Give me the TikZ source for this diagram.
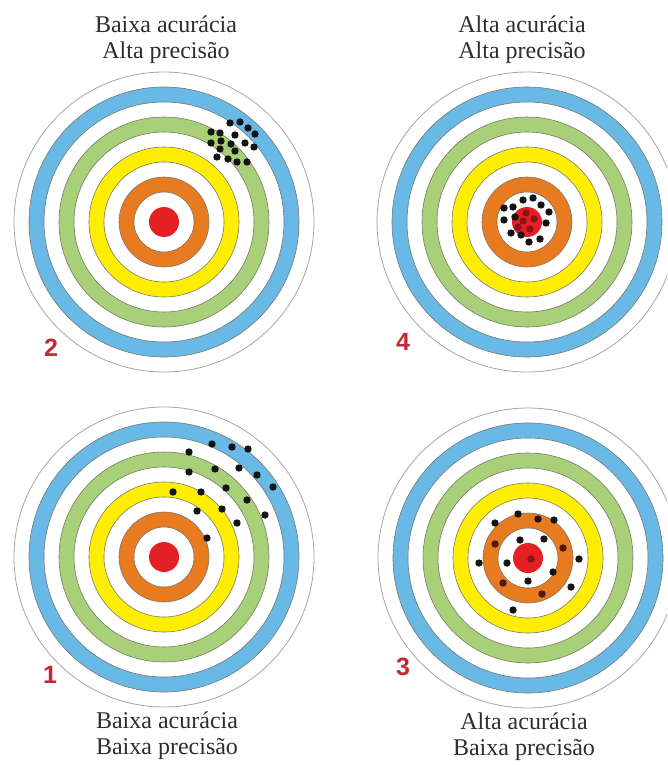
\documentclass[tikz,border=0pt]{standalone}
\usepackage{fontspec}
\setmainfont{Liberation Serif}
\newfontfamily\numfont{Liberation Sans}
\definecolor{bandblue}{RGB}{105,185,230}
\definecolor{bandgreen}{RGB}{168,208,120}
\definecolor{bandyellow}{RGB}{255,238,0}
\definecolor{bandorange}{RGB}{232,122,32}
\definecolor{bandred}{RGB}{228,32,36}
\definecolor{ringedge}{RGB}{120,120,110}
\definecolor{outeredge}{RGB}{165,165,165}
\definecolor{numred}{RGB}{195,40,55}
\definecolor{dotblack}{RGB}{20,20,20}
\definecolor{dotdarkred}{RGB}{140,20,25}
\definecolor{dotbrown}{RGB}{80,25,10}
\definecolor{txtgray}{RGB}{45,45,45}
\begin{document}
\begin{tikzpicture}[x=1pt,y=-1pt,
  band/.style={draw=ringedge, line width=0.6pt, even odd rule},
  lab/.style={anchor=base, inner sep=0pt, text=txtgray, font=\fontsize{24}{26}\selectfont},
  num/.style={inner sep=0pt, text=numred, font=\numfont\bfseries\fontsize{25}{26}\selectfont},
  tgt/.pic={
    \draw[outeredge, line width=0.8pt] (0,0) circle[radius=150pt];
    \path[band, fill=bandblue]   (0,0) circle[radius=135pt] circle[radius=120pt];
    \path[band, fill=bandgreen]  (0,0) circle[radius=105pt] circle[radius=90pt];
    \path[band, fill=bandyellow] (0,0) circle[radius=75pt]  circle[radius=60pt];
    \path[band, fill=bandorange] (0,0) circle[radius=45pt]  circle[radius=30pt];
    \path[fill=bandred] (0,0) circle[radius=15pt];
  }]
\useasboundingbox (0,0) rectangle (667,765);
\clip (0,0) rectangle (667,765);

% targets
\pic at (164,222) {tgt};
\pic at (527,222) {tgt};
\pic at (164,557) {tgt};
\pic at (528,558) {tgt};

% shots: target 2 (top left)
\foreach \p in {(230,123),(240,122),(248,128),(255,134),(211,132),(220,133),(235,135),
  (211,143),(221,141),(231,144),(245,143),(254,147),(220,149),(235,151),(217,157),
  (228,159),(237,162),(247,162)}
  \fill[dotblack] \p circle[radius=3.7pt];

% shots: target 4 (top right)
\foreach \p in {(523,200),(533,198),(541,205),(549,212),(504,208),(513,207),(504,220),
  (515,217),(546,223),(511,233),(521,235),(529,242),(540,239)}
  \fill[dotblack] \p circle[radius=3.7pt];
\foreach \p in {(526,213),(534,219),(523,221),(530,229),(518,227)}
  \fill[dotdarkred] \p circle[radius=3.7pt];

% shots: target 1 (bottom left)
\foreach \p in {(212,444),(232,447),(248,449),(189,452),(189,472),(215,469),(239,468),
  (257,475),(273,487),(173,492),(201,492),(226,488),(247,500),(197,511),(222,509),
  (265,515),(237,523),(207,538)}
  \fill[dotblack] \p circle[radius=3.7pt];

% shots: target 3 (bottom right)
\foreach \p in {(518,514),(538,519),(554,520),(495,523),(520,540),(544,539),(579,559),
  (479,563),(507,563),(553,572),(528,581),(571,587),(513,610)}
  \fill[dotblack] \p circle[radius=3.7pt];
\foreach \p in {(495,544),(563,548),(503,583),(542,594)}
  \fill[dotbrown] \p circle[radius=3.7pt];
\fill[dotdarkred] (531,559) circle[radius=3.7pt];

% numbers
\node[num] (n2) at (51,348) {2};
\node[num] (n4) at (403,342) {4};
\node[num] (n1) at (50,675) {1};
\node[num] (n3) at (403,667) {3};

% labels
\node[lab] (l2a) at (166,33) {Baixa acurácia};
\node[lab] (l2b) at (166,59) {Alta precisão};
\node[lab] (l4a) at (522,33) {Alta acurácia};
\node[lab] (l4b) at (522,59) {Alta precisão};
\node[lab] (l1a) at (167,728) {Baixa acurácia};
\node[lab] (l1b) at (167,754) {Baixa precisão};
\node[lab] (l3a) at (524,729) {Alta acurácia};
\node[lab] (l3b) at (524,755) {Baixa precisão};
\end{tikzpicture}
\end{document}
